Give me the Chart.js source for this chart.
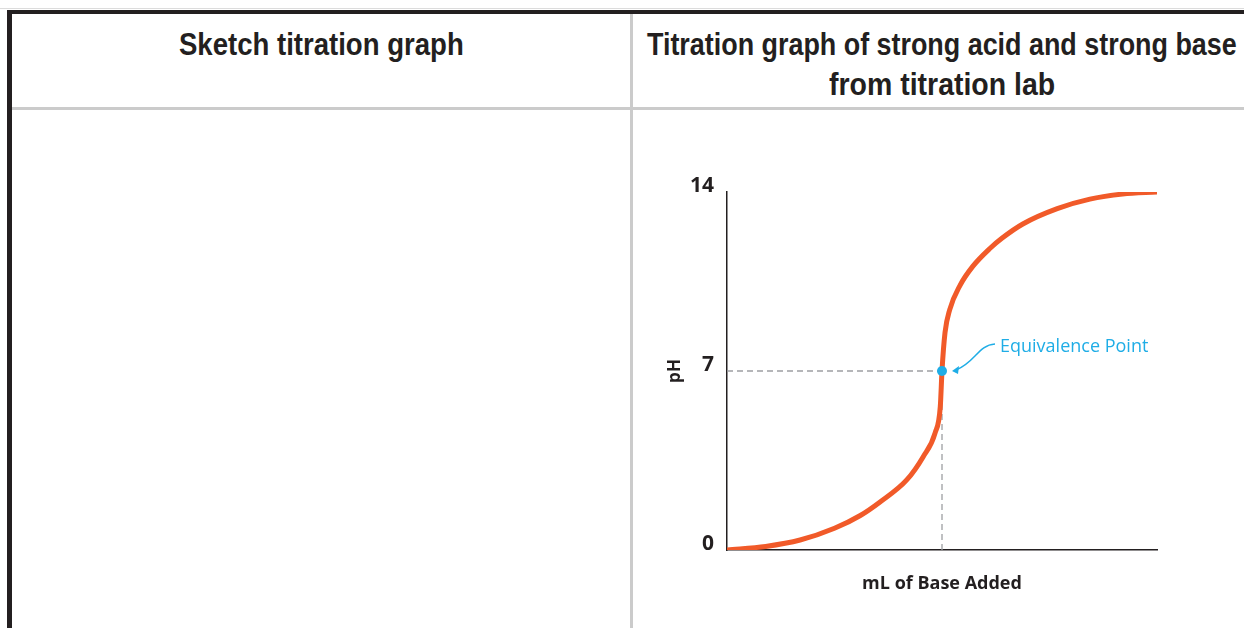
<!DOCTYPE html>
<html>
<head>
<meta charset="utf-8">
<script src="https://cdn.jsdelivr.net/npm/chart.js@4.4.1/dist/chart.umd.min.js"></script>
<style>
  html, body { margin: 0; padding: 0; background: #fff; }
  body { width: 1244px; height: 628px; position: relative; overflow: hidden; }
  .bar { position: absolute; }
  .head {
    position: absolute; text-align: center; color: #231f20; white-space: nowrap;
    font-family: "Liberation Sans", Arial, sans-serif;
    font-weight: bold; font-size: 32px; line-height: 40px;
  }
  .head span { display: inline-block; transform-origin: center center; }
  #wrap { position: absolute; left: 640px; top: 150px; width: 560px; height: 478px; }
</style>
</head>
<body>
<div class="bar" style="left:0;top:8px;width:1244px;height:1px;background:#dcdcdc;"></div>
<div class="bar" style="left:7px;top:10px;width:1237px;height:4px;background:#231f20;"></div>
<div class="bar" style="left:7px;top:10px;width:5px;height:618px;background:#231f20;"></div>
<div class="bar" style="left:12px;top:107px;width:1232px;height:3px;background:#cbcbcb;"></div>
<div class="bar" style="left:630px;top:14px;width:3px;height:614px;background:#cbcbcb;"></div>

<div class="head" style="left:12px;top:24px;width:618px;"><span data-w="285">Sketch titration graph</span></div>
<div class="head" style="left:442px;top:24px;width:1000px;"><span data-w="590">Titration graph of strong acid and strong base</span><br><span data-w="226">from titration lab</span></div>

<div id="wrap"><canvas id="chart" width="560" height="478"></canvas></div>

<script>
// titration curve (mL of base, pH)
var ML_ADDED = [0, 4.5, 8.5, 12.5, 15.5, 17.8, 20.9, 22.8, 24.2, 24.8, 25, 25.35, 25.9, 27.1, 28.6, 30.6, 32, 34.4, 38.4, 42.2, 46, 50];
var PH_VALUES = [0, 0.14, 0.39, 0.85, 1.35, 1.88, 2.74, 3.64, 4.58, 5.6, 7, 8.5, 9.4, 10.35, 11.1, 11.8, 12.2, 12.75, 13.35, 13.72, 13.92, 14];
var Y_TICKS = [0, 7, 14];
var X_MIN = 0, X_MAX = 50;
var EQ_ML = 25, EQ_PH = 7;
var EQ_LABEL = 'Equivalence Point';

var ORANGE = '#f15a29';
var BLUE = '#1fade6';
var INK = '#231f20';
var DASH = '#9d9fa2';

// squeeze header text to the condensed widths of the original
document.querySelectorAll('.head span').forEach(function (el) {
  var k = parseFloat(el.getAttribute('data-w')) / el.offsetWidth;
  el.style.transform = 'scaleX(' + k + ')';
});

var curve = ML_ADDED.map(function (x, i) { return { x: x, y: PH_VALUES[i] }; });

var eqNote = {
  id: 'eqNote',
  afterDatasetsDraw: function (chart) {
    var ctx = chart.ctx;
    var px = chart.scales.x.getPixelForValue(EQ_ML);
    var py = chart.scales.y.getPixelForValue(EQ_PH);
    ctx.save();
    ctx.strokeStyle = BLUE;
    ctx.fillStyle = BLUE;
    ctx.lineWidth = 1.5;
    ctx.beginPath();
    ctx.moveTo(px + 53, py - 27);
    ctx.bezierCurveTo(px + 36, py - 26, px + 33, py - 8, px + 14, py - 1);
    ctx.stroke();
    // arrow head
    ctx.beginPath();
    ctx.moveTo(px + 10, py);
    ctx.lineTo(px + 17, py - 5);
    ctx.lineTo(px + 16, py + 3);
    ctx.closePath();
    ctx.fill();
    ctx.font = '18px "Open Sans", sans-serif';
    ctx.textBaseline = 'middle';
    ctx.textAlign = 'left';
    ctx.fillText(EQ_LABEL, px + 58, py - 24);
    ctx.restore();
  }
};

new Chart(document.getElementById('chart').getContext('2d'), {
  type: 'line',
  data: {
    datasets: [
      {
        label: 'pH',
        data: curve,
        borderColor: ORANGE,
        borderWidth: 5,
        borderCapStyle: 'round',
        pointRadius: 0,
        cubicInterpolationMode: 'monotone',
        order: 1
      },
      {
        label: 'h',
        data: [{ x: X_MIN, y: EQ_PH }, { x: EQ_ML, y: EQ_PH }],
        borderColor: DASH,
        borderWidth: 1.3,
        borderDash: [6, 4],
        pointRadius: 0,
        order: 2
      },
      {
        label: 'v',
        data: [{ x: EQ_ML, y: 0 }, { x: EQ_ML, y: EQ_PH }],
        borderColor: DASH,
        borderWidth: 1.3,
        borderDash: [6, 4],
        pointRadius: 0,
        order: 2
      },
      {
        label: 'eq',
        data: [{ x: EQ_ML, y: EQ_PH }],
        showLine: false,
        pointRadius: 5,
        pointBackgroundColor: BLUE,
        pointBorderWidth: 0,
        order: 0
      }
    ]
  },
  options: {
    responsive: false,
    animation: false,
    layout: { padding: { top: 42, right: 43, left: 0, bottom: 0 } },
    plugins: { legend: { display: false }, tooltip: { enabled: false } },
    scales: {
      x: {
        type: 'linear', min: X_MIN, max: X_MAX,
        grid: { display: false },
        border: { color: INK, width: 1.5 },
        ticks: { display: false },
        title: {
          display: true, text: 'mL of Base Added', color: INK,
          font: { family: 'Open Sans', weight: 'bold', size: 18 },
          padding: { top: 0, bottom: 33 }
        },
        afterFit: function (s) { s.height = 78; }
      },
      y: {
        min: 0, max: 14,
        afterBuildTicks: function (s) { s.ticks = Y_TICKS.map(function (v) { return { value: v }; }); },
        grid: { display: false },
        border: { color: INK, width: 1.5 },
        ticks: {
          color: INK, padding: 5, labelOffset: -6,
          font: { family: 'Open Sans', weight: 'bold', size: 21 }
        },
        title: {
          display: true, text: 'pH', color: INK,
          font: { family: 'Open Sans', weight: 'bold', size: 17 },
          padding: { top: 25, bottom: 0 }
        },
        afterFit: function (s) { s.width = 87; }
      }
    }
  },
  plugins: [eqNote]
});
</script>
</body>
</html>
